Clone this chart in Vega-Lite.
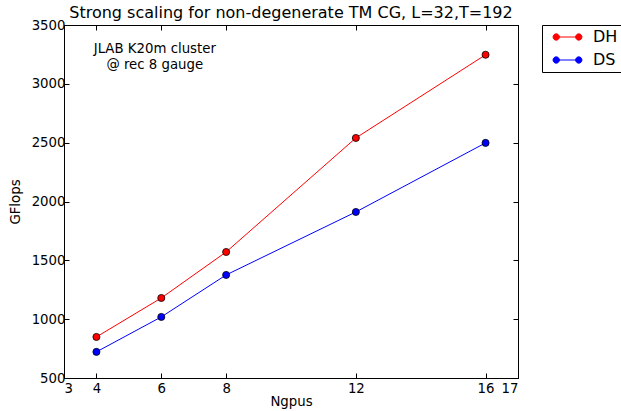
{
  "$schema": "https://vega.github.io/schema/vega-lite/v6.json",
  "width": 454,
  "height": 353,
  "autosize": {"type": "none"},
  "padding": {"left": 64, "top": 25, "right": 103, "bottom": 33},
  "config": {
    "font": "DejaVu Sans",
    "view": {"stroke": "black", "strokeWidth": 1},
    "axis": {"grid": false, "domainColor": "black", "tickColor": "black", "labelColor": "black", "titleColor": "black", "labelFont": "DejaVu Sans", "titleFont": "DejaVu Sans", "titleFontWeight": "normal", "labelFontSize": 13.3, "titleFontSize": 13.3, "tickSize": -5, "labelPadding": 9}
  },
  "title": {"text": "Strong scaling for non-degenerate TM CG, L=32,T=192", "fontSize": 16, "fontWeight": "normal", "font": "DejaVu Sans", "color": "black", "offset": 3, "dy": 6, "anchor": "middle"},
  "resolve": {"axis": {"x": "independent", "y": "independent"}},
  "datasets": {
    "perf": [
      {"Ngpus": 4, "GFlops": 849, "series": "DH"},
      {"Ngpus": 6, "GFlops": 1180, "series": "DH"},
      {"Ngpus": 8, "GFlops": 1571, "series": "DH"},
      {"Ngpus": 12, "GFlops": 2540, "series": "DH"},
      {"Ngpus": 16, "GFlops": 3247, "series": "DH"},
      {"Ngpus": 4, "GFlops": 722, "series": "DS"},
      {"Ngpus": 6, "GFlops": 1019, "series": "DS"},
      {"Ngpus": 8, "GFlops": 1376, "series": "DS"},
      {"Ngpus": 12, "GFlops": 1911, "series": "DS"},
      {"Ngpus": 16, "GFlops": 2498, "series": "DS"}
    ],
    "note": [
      {"Ngpus": 5.8, "GFlops": 3296, "label": "JLAB K20m cluster"},
      {"Ngpus": 5.8, "GFlops": 3158, "label": "@ rec 8 gauge"}
    ]
  },
  "layer": [
    {
      "data": {"name": "perf"},
      "mark": {"type": "line", "strokeWidth": 1},
      "encoding": {
        "x": {"field": "Ngpus", "type": "quantitative", "scale": {"domain": [3, 17], "nice": false, "zero": false}, "axis": {"values": [3, 4, 6, 8, 12, 16, 17], "format": "d", "title": "Ngpus", "titlePadding": 0, "labelPadding": 8}},
        "y": {"field": "GFlops", "type": "quantitative", "scale": {"domain": [500, 3500], "nice": false, "zero": false}, "axis": {"values": [500, 1000, 1500, 2000, 2500, 3000, 3500], "format": "d", "title": "GFlops", "titlePadding": 9, "labelPadding": 4}},
        "color": {"field": "series", "type": "nominal", "scale": {"domain": ["DH", "DS"], "range": ["#ff0000", "#0000ff"]},
          "legend": {"orient": "none", "legendX": 478, "legendY": 0, "title": null, "strokeColor": "black", "fillColor": "white", "padding": 4, "symbolType": "M -2.26 0 L 2.26 0 M -1.63 0 A 0.63 0.63 0 1 1 -2.89 0 A 0.63 0.63 0 1 1 -1.63 0 M 2.89 0 A 0.63 0.63 0 1 1 1.63 0 A 0.63 0.63 0 1 1 2.89 0", "symbolSize": 100, "symbolStrokeWidth": 1, "symbolOffset": 13.5, "labelFontSize": 16, "labelFont": "DejaVu Sans", "labelColor": "black", "rowPadding": 7, "labelOffset": 17.5, "labelExpr": "datum.label + '      '"}}
      }
    },
    {
      "data": {"name": "perf"},
      "mark": {"type": "point", "filled": true, "size": 50, "stroke": "black", "strokeWidth": 0.8, "opacity": 1},
      "encoding": {
        "x": {"field": "Ngpus", "type": "quantitative", "axis": {"orient": "top", "values": [3, 4, 6, 8, 12, 16, 17], "labels": false, "title": null}},
        "y": {"field": "GFlops", "type": "quantitative", "axis": {"orient": "right", "values": [500, 1000, 1500, 2000, 2500, 3000, 3500], "labels": false, "title": null}},
        "color": {"field": "series", "type": "nominal"}
      }
    },
    {
      "data": {"name": "note"},
      "mark": {"type": "text", "fontSize": 13.3, "font": "DejaVu Sans", "color": "black", "align": "center", "baseline": "middle"},
      "encoding": {
        "x": {"field": "Ngpus", "type": "quantitative", "axis": null},
        "y": {"field": "GFlops", "type": "quantitative", "axis": null},
        "text": {"field": "label"}
      }
    }
  ]
}
